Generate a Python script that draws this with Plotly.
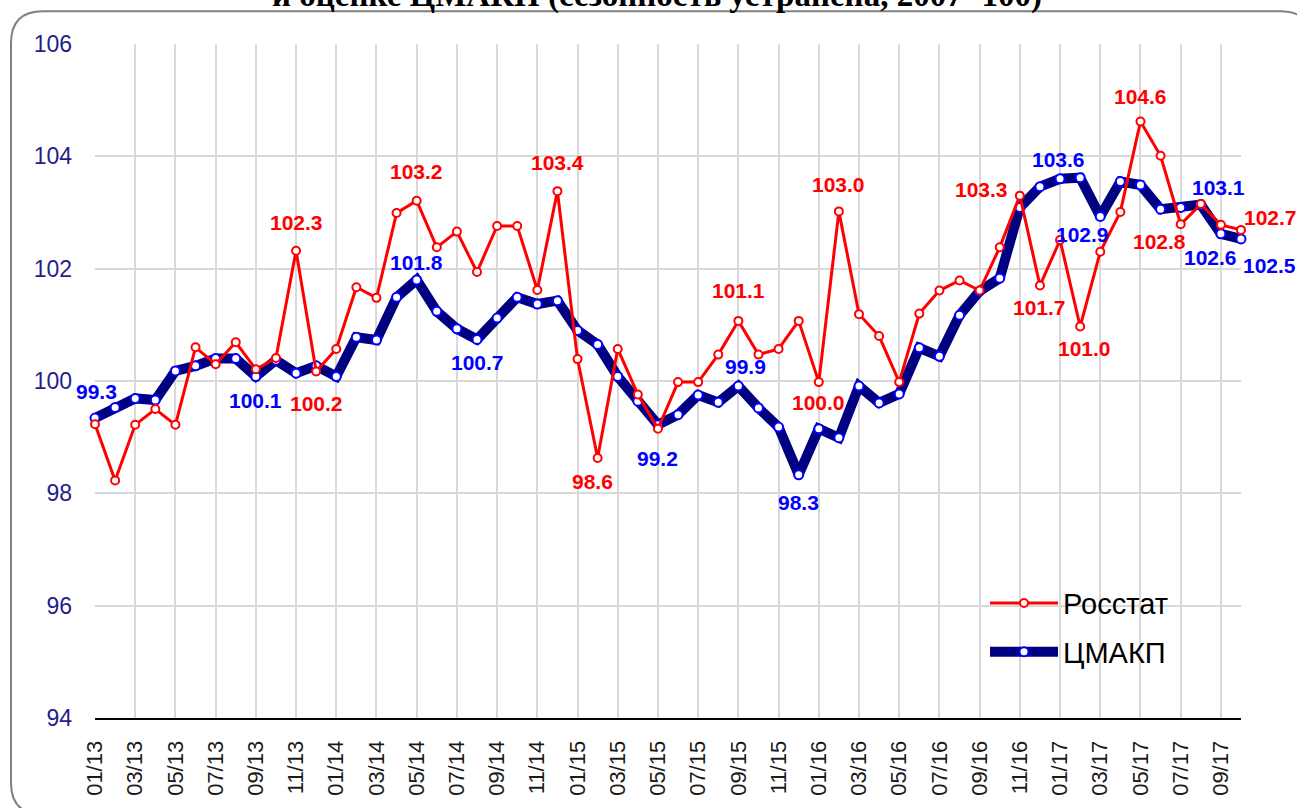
import plotly.graph_objects as go

# ---------------- data ----------------
tick_labels = ["01/13", "03/13", "05/13", "07/13", "09/13", "11/13",
               "01/14", "03/14", "05/14", "07/14", "09/14", "11/14",
               "01/15", "03/15", "05/15", "07/15", "09/15", "11/15",
               "01/16", "03/16", "05/16", "07/16", "09/16", "11/16",
               "01/17", "03/17", "05/17", "07/17", "09/17"]

rosstat = [99.23, 98.23, 99.22, 99.50, 99.22, 100.60, 100.30, 100.69, 100.21, 100.41,
           102.32, 100.17, 100.57, 101.67, 101.48, 102.99, 103.21, 102.38, 102.66, 101.94,
           102.76, 102.76, 101.62, 103.38, 100.39, 98.63, 100.57, 99.76, 99.15, 99.98,
           99.98, 100.47, 101.07, 100.47, 100.57, 101.07, 99.98, 103.02, 101.19, 100.80,
           99.98, 101.20, 101.61, 101.79, 101.61, 102.38, 103.30, 101.70, 102.51, 100.97,
           102.30, 103.01, 104.62, 104.01, 102.79, 103.15, 102.78, 102.69]

cmakp = [99.34, 99.53, 99.69, 99.66, 100.18, 100.27, 100.40, 100.40, 100.08, 100.37,
         100.14, 100.27, 100.08, 100.78, 100.73, 101.49, 101.80, 101.24, 100.93, 100.74,
         101.12, 101.49, 101.37, 101.43, 100.90, 100.65, 100.08, 99.64, 99.22, 99.40,
         99.75, 99.62, 99.91, 99.52, 99.18, 98.33, 99.15, 98.99, 99.91, 99.61,
         99.77, 100.59, 100.44, 101.17, 101.60, 101.83, 103.09, 103.46, 103.60, 103.62,
         102.93, 103.55, 103.49, 103.06, 103.09, 103.14, 102.62, 102.53]

series_names = ["Росстат", "ЦМАКП"]
title_text = "и оценке ЦМАКП (сезонность устранена, 2007=100)"

# labelled points: index -> (xshift, yshift) in px
rosstat_labels = {10: (0, 28), 11: (0, -32), 16: (0, 29), 23: (0, 29), 25: (-5, -24),
                  32: (0, 30), 36: (0, -20), 37: (0, 27), 46: (-38, 6), 47: (0, -22),
                  49: (4, -22), 52: (0, 25), 54: (-21, -17), 57: (29, 12)}
cmakp_labels = {0: (1, 27), 8: (0, -24), 16: (0, 17), 19: (0, -23), 28: (0, -34),
                32: (7, 20), 35: (0, -28), 48: (-2, 19), 50: (-18, -18), 55: (18, 17),
                56: (-10, -24), 57: (28, -27)}

x_idx = list(range(len(rosstat)))
tick_vals = list(range(0, len(rosstat), 2))[:len(tick_labels)]

# ---------------- geometry ----------------
W, H = 1297, 808
L, R, T, B = 95, 1241, 44, 721


def px2x(px):
    return (px - L) / (R - L)


def px2y(py):
    return (B - py) / (B - T)


RED = "#FF0000"
NAVY = "#000080"
BLUE = "#0000FF"
FONT = "Arial, Liberation Sans, sans-serif"

fig = go.Figure()

fig.add_trace(go.Scatter(
    x=x_idx, y=cmakp, name=series_names[1], mode="lines+markers",
    line=dict(color=NAVY, width=10),
    marker=dict(symbol="circle", size=9, color="white", line=dict(color=BLUE, width=2)),
    cliponaxis=False, legendrank=2, legendgroup="b",
))
fig.add_trace(go.Scatter(
    x=x_idx, y=rosstat, name=series_names[0], mode="lines+markers",
    line=dict(color=RED, width=3),
    marker=dict(symbol="circle", size=8, color="white", line=dict(color=RED, width=2)),
    cliponaxis=False, legendrank=1, legendgroup="a",
))

annotations = []
for i, (dx, dy) in rosstat_labels.items():
    annotations.append(dict(x=i, y=rosstat[i], xref="x", yref="y", text=f"{rosstat[i]:.1f}",
                            showarrow=False, xshift=dx, yshift=dy,
                            font=dict(family=FONT, size=21, color=RED, weight="bold")))
for i, (dx, dy) in cmakp_labels.items():
    annotations.append(dict(x=i, y=cmakp[i], xref="x", yref="y", text=f"{cmakp[i]:.1f}",
                            showarrow=False, xshift=dx, yshift=dy,
                            font=dict(family=FONT, size=21, color=BLUE, weight="bold")))

# cut-off title at the top
annotations.append(dict(x=px2x(657), y=px2y(16), xref="paper", yref="paper",
                        xanchor="center", yanchor="bottom", showarrow=False,
                        text=title_text,
                        font=dict(family="Liberation Serif, Times New Roman, serif",
                                  size=33, color="black", weight="bold")))

# rounded chart-area border
x0, y0, x1, y1, rr = 11, 11, 1312, 818, 32
path = (f"M {px2x(x0 + rr)},{px2y(y0)} L {px2x(x1 - rr)},{px2y(y0)} "
        f"Q {px2x(x1)},{px2y(y0)} {px2x(x1)},{px2y(y0 + rr)} "
        f"L {px2x(x1)},{px2y(y1 - rr)} Q {px2x(x1)},{px2y(y1)} {px2x(x1 - rr)},{px2y(y1)} "
        f"L {px2x(x0 + rr)},{px2y(y1)} Q {px2x(x0)},{px2y(y1)} {px2x(x0)},{px2y(y1 - rr)} "
        f"L {px2x(x0)},{px2y(y0 + rr)} Q {px2x(x0)},{px2y(y0)} {px2x(x0 + rr)},{px2y(y0)} Z")

fig.update_layout(
    width=W, height=H,
    margin=dict(l=L, r=W - R, t=T, b=H - B, pad=0),
    paper_bgcolor="white", plot_bgcolor="white",
    showlegend=True,
    legend=dict(x=px2x(985), y=px2y(580), xanchor="left", yanchor="top",
                bgcolor="rgba(0,0,0,0)", font=dict(family=FONT, size=29, color="black"),
                tracegroupgap=8, itemwidth=68),
    annotations=annotations,
    shapes=[dict(type="path", path=path, xref="paper", yref="paper",
                 line=dict(color="#808080", width=2), fillcolor="rgba(0,0,0,0)", layer="above")],
    xaxis=dict(range=[0, len(rosstat) - 1], tickmode="array", tickvals=tick_vals,
               ticktext=tick_labels, tickangle=-90, showgrid=True, gridcolor="#D9D9D9",
               gridwidth=2, showline=True, linecolor="black", linewidth=2, zeroline=False,
               ticks="", ticklabelstandoff=12,
               tickfont=dict(family=FONT, size=22, color="#1a1a1a")),
    yaxis=dict(range=[94, 106], tickmode="array", tickvals=[94, 96, 98, 100, 102, 104, 106],
               showgrid=True, gridcolor="#D9D9D9", gridwidth=2, zeroline=False,
               showline=False, ticks="", ticklabelstandoff=22,
               tickfont=dict(family=FONT, size=23, color="#1F1F8C")),
)

fig.write_html("out.html", config={"displayModeBar": False},
               post_script="document.body.style.margin='0';document.body.style.overflow='hidden';")
